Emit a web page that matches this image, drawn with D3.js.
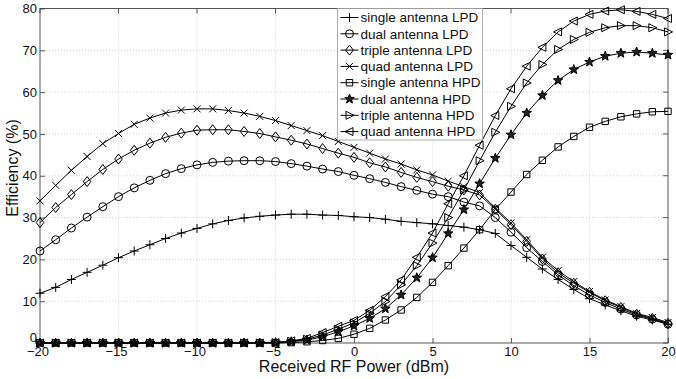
<!DOCTYPE html>
<html><head><meta charset="utf-8">
<script src="https://cdn.jsdelivr.net/npm/d3@7"></script>
<style>body{margin:0;background:#fff}svg{display:block}text{font-family:"Liberation Sans",Arial,Helvetica,sans-serif}</style>
</head><body>
<svg id="c" width="676" height="379"></svg>
<script>
const power = d3.range(-20, 21, 1);
const xTicks = [-20, -15, -10, -5, 0, 5, 10, 15, 20];
const yTicks = [0, 10, 20, 30, 40, 50, 60, 70, 80];
const xLabel = "Received RF Power (dBm)";
const yLabel = "Efficiency (%)";

const seriesNames = ["single antenna LPD","dual antenna LPD","triple antenna LPD","quad antenna LPD",
  "single antenna HPD","dual antenna HPD","triple antenna HPD","quad antenna HPD"];
const seriesMarkers = ["plus","circle","diamond","cross","square","star","triRight","triLeft"];

const singleLPD = [11.9,13.3,15.2,16.9,18.6,20.4,22.0,23.5,25.0,26.3,27.4,28.5,29.3,29.9,30.3,30.6,30.8,30.8,30.6,30.5,30.2,30.0,29.6,29.1,28.8,28.5,28.1,27.7,27.1,26.2,23.3,20.5,17.7,15.2,12.8,10.6,9.1,7.7,6.4,5.5,4.5];
const dualLPD = [22.0,24.7,27.5,30.1,32.6,35.0,37.1,38.9,40.5,41.7,42.6,43.2,43.5,43.6,43.6,43.4,42.9,42.3,41.6,41.0,40.1,39.3,38.4,37.4,36.5,35.6,35.0,33.7,32.8,30.0,26.5,22.8,19.5,16.3,13.7,11.5,9.7,8.1,6.7,5.7,4.5];
const tripleLPD = [28.8,32.4,35.5,38.6,41.5,44.0,46.1,47.8,49.2,50.2,50.9,51.0,51.0,50.6,50.1,49.3,48.5,47.6,46.5,45.4,44.4,43.1,42.1,40.8,39.6,38.6,37.5,36.6,35.4,32.0,28.3,24.3,20.1,16.8,14.3,12.1,10.1,8.5,6.9,5.9,4.7];
const quadLPD = [34.0,37.7,41.3,44.6,47.7,50.1,52.3,53.8,55.0,55.7,56.0,56.0,55.6,55.0,54.2,53.2,52.0,50.8,49.6,48.2,46.8,45.4,44.0,42.8,41.4,40.2,38.7,37.4,36.0,32.3,28.7,24.7,20.5,17.3,14.7,12.3,10.3,8.7,7.1,6.1,4.9];
const singleHPD = [0,0,0,0,0,0,0,0,0,0,0,0,0,0,0,0,0.1,0.3,0.6,1.1,2.1,3.5,5.5,7.9,10.9,14.5,18.5,22.7,27.1,31.9,36.1,40.3,43.7,46.9,49.4,51.6,53.0,54.1,54.8,55.3,55.4];
const dualHPD = [0,0,0,0,0,0,0,0,0,0,0,0,0,0,0,0.1,0.3,0.7,1.5,2.7,4.1,5.9,8.2,11.5,15.6,20.4,26.2,31.9,38.1,44.2,49.8,55.0,59.2,62.8,65.4,67.2,68.6,69.3,69.6,69.3,68.9];
const tripleHPD = [0,0,0,0,0,0,0,0,0,0,0,0,0,0,0,0.1,0.4,0.9,1.9,3.3,4.8,7.1,9.9,13.9,18.5,23.9,30.0,36.6,43.6,50.4,56.6,62.2,66.6,70.2,72.6,74.3,75.4,75.9,75.9,75.4,74.4];
const quadHPD = [0,0,0,0,0,0,0,0,0,0,0,0,0,0,0,0.1,0.5,1.1,2.5,4.0,5.4,7.8,11.1,15.1,20.5,26.3,33.3,40.0,47.3,54.4,60.8,66.2,70.7,74.4,77.0,78.6,79.4,79.7,79.3,78.6,77.6];
const seriesValues = [singleLPD,dualLPD,tripleLPD,quadLPD,singleHPD,dualHPD,tripleHPD,quadHPD];

const svg = d3.select("#c");
const L = 40, R = 668, T = 8.5, B = 343;
const x = d3.scaleLinear().domain([-20, 20]).range([L, R]);
const y = d3.scaleLinear().domain([0, 80]).range([B, T]);

// grid
const g = svg.append("g");
g.selectAll(".gx").data(xTicks.slice(1, -1)).join("line")
  .attr("x1", d => x(d)).attr("x2", d => x(d)).attr("y1", T).attr("y2", B)
  .attr("stroke", "#c8c8c8").attr("stroke-width", 0.8).attr("stroke-dasharray", "1,2");
g.selectAll(".gy").data(yTicks.slice(1, -1)).join("line")
  .attr("y1", d => y(d)).attr("y2", d => y(d)).attr("x1", L).attr("x2", R)
  .attr("stroke", "#c8c8c8").attr("stroke-width", 0.8).attr("stroke-dasharray", "1,2");

// axes (ticks inward)
const ax = svg.append("g").attr("transform", `translate(0,${B})`)
  .call(d3.axisBottom(x).tickValues(xTicks).tickSizeInner(-5).tickSizeOuter(0).tickPadding(4)
    .tickFormat(d => d < 0 ? "\u2212" + Math.abs(d) : d));
ax.selectAll(".tick text").attr("dx", d => d < 0 ? -2.5 : 0);
const ay = svg.append("g").attr("transform", `translate(${L},0)`)
  .call(d3.axisLeft(y).tickValues(yTicks).tickSizeInner(-5).tickSizeOuter(0).tickPadding(3));
ay.selectAll(".tick text").attr("y", d => d === 0 ? -6 : 0);
[ax, ay].forEach(a => {
  a.select(".domain").remove();
  a.selectAll("line").attr("stroke", "#333").attr("stroke-width", 0.8);
  a.selectAll("text").attr("font-size", 13).attr("fill", "#111");
});
// top/right ticks
svg.append("g").selectAll("line").data(xTicks).join("line")
  .attr("x1", d => x(d)).attr("x2", d => x(d)).attr("y1", T).attr("y2", T + 5)
  .attr("stroke", "#333").attr("stroke-width", 0.8);
svg.append("g").selectAll("line").data(yTicks).join("line")
  .attr("y1", d => y(d)).attr("y2", d => y(d)).attr("x1", R).attr("x2", R - 5)
  .attr("stroke", "#333").attr("stroke-width", 0.8);
svg.append("rect").attr("x", L).attr("y", T).attr("width", R - L).attr("height", B - T)
  .attr("fill", "none").attr("stroke", "#444").attr("stroke-width", 0.9);

// labels
svg.append("text").attr("x", 354).attr("y", 372).attr("text-anchor", "middle")
  .attr("font-size", 16).attr("fill", "#111").text(xLabel);
svg.append("text").attr("transform", `translate(17.5,168) rotate(-90)`).attr("text-anchor", "middle")
  .attr("font-size", 16).attr("fill", "#111").text(yLabel);

// marker shapes
function markerPath(type) {
  switch (type) {
    case "plus": return "M-4.5,0H4.5M0,-4.5V4.5";
    case "cross": return "M-3.5,-3.5L3.5,3.5M-3.5,3.5L3.5,-3.5";
    case "circle": return d3.symbol(d3.symbolCircle, 50)();
    case "square": return "M-3.2,-3.2H3.2V3.2H-3.2Z";
    case "diamond": return "M0,-5L3.8,0L0,5L-3.8,0Z";
    case "triRight": return "M4.5,0L-3.5,-4L-3.5,4Z";
    case "triLeft": return "M-4.5,0L3.5,-4L3.5,4Z";
    case "star": {
      const pts = [];
      for (let i = 0; i < 10; i++) {
        const r = i % 2 === 0 ? 5 : 2.1;
        const a = -Math.PI / 2 + i * Math.PI / 5;
        pts.push([r * Math.cos(a), r * Math.sin(a)]);
      }
      return "M" + pts.map(p => p.join(",")).join("L") + "Z";
    }
  }
}

const line = d3.line().x((d, i) => x(power[i])).y(d => y(d));
const plot = svg.append("g");
seriesValues.forEach((vals, si) => {
  plot.append("path").attr("d", line(vals)).attr("fill", "none")
    .attr("stroke", "#000").attr("stroke-width", 1);
  const mk = seriesMarkers[si];
  plot.append("g").selectAll("path").data(vals).join("path")
    .attr("transform", (d, i) => `translate(${x(power[i])},${y(d)})`)
    .attr("d", markerPath(mk))
    .attr("fill", mk === "star" ? "#222" : "none")
    .attr("stroke", "#000").attr("stroke-width", 1);
});

// legend
const lg = svg.append("g");
const lx = 337.5, ly = 8.5, lw = 145, lh = 131.5, rowH = 16.3;
lg.append("rect").attr("x", lx).attr("y", ly).attr("width", lw).attr("height", lh)
  .attr("fill", "#fff").attr("stroke", "#999").attr("stroke-width", 0.8);
seriesNames.forEach((name, i) => {
  const cy = ly + 9 + i * rowH;
  lg.append("line").attr("x1", lx + 3).attr("x2", lx + 21).attr("y1", cy).attr("y2", cy)
    .attr("stroke", "#000").attr("stroke-width", 1);
  lg.append("path").attr("transform", `translate(${lx + 12},${cy})`).attr("d", markerPath(seriesMarkers[i]))
    .attr("fill", seriesMarkers[i] === "star" ? "#222" : "none").attr("stroke", "#000").attr("stroke-width", 1);
  lg.append("text").attr("x", lx + 23).attr("y", cy + 4.7).attr("font-size", 13.5).attr("fill", "#111").text(name);
});
</script>
</body></html>
